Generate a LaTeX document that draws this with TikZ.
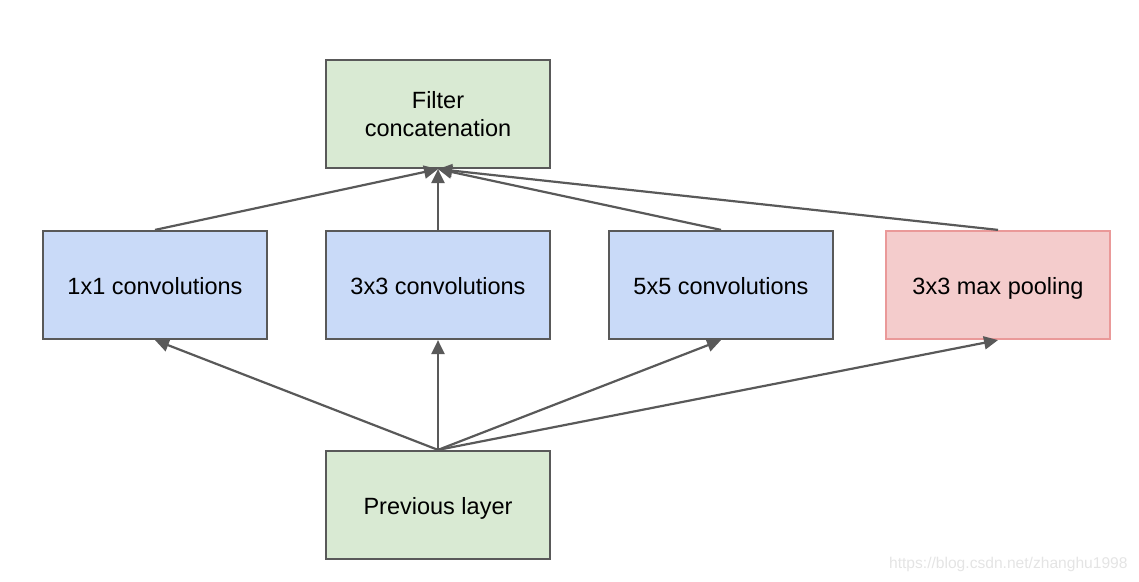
\documentclass[tikz,border=0pt]{standalone}
\usepackage{fontspec}
\setmainfont{Liberation Sans}
\usetikzlibrary{arrows.meta}
\definecolor{boxgreen}{HTML}{D9EAD3}
\definecolor{boxblue}{HTML}{C9DAF8}
\definecolor{boxred}{HTML}{F4CCCC}
\definecolor{redline}{HTML}{EA9999}
\definecolor{edge}{HTML}{595959}
\definecolor{wm}{HTML}{E4E4E4}
\begin{document}
\begin{tikzpicture}[x=0.5pt,y=-0.5pt,
  box/.style={draw=edge,line width=1.1pt,minimum width=112pt,minimum height=54pt,
    inner sep=0pt,align=center,font=\fontsize{11.75}{14}\selectfont},
  onel/.style={text height=10.5pt,text depth=1pt},
  gbox/.style={box,fill=boxgreen},
  bbox/.style={box,onel,fill=boxblue},
  rbox/.style={box,onel,fill=boxred,draw=redline},
  conn/.style={draw=edge,line width=1.1pt,-{Triangle[length=7pt,width=6.5pt]}}]
\useasboundingbox (0,0) rectangle (1139,582);
\node[gbox] (concat) at (438,114) {Filter\\concatenation};
\node[bbox] (c1) at (155,285) {1x1 convolutions};
\node[bbox] (c3) at (438,285) {3x3 convolutions};
\node[bbox] (c5) at (721,285) {5x5 convolutions};
\node[rbox] (mp) at (998,285) {3x3 max pooling};
\node[gbox,onel] (prev) at (438,505) {Previous layer};
\foreach \n in {c1,c3,c5,mp} {
  \draw[conn] (prev.north) -- (\n.south);
  \draw[conn] (\n.north) -- (concat.south);
}
\node[text=wm,inner sep=0pt,font=\fontsize{7.8}{9}\selectfont,anchor=east] (wmk) at (1128,564) {https://blog.csdn.net/zhanghu1998};
\end{tikzpicture}
\end{document}
